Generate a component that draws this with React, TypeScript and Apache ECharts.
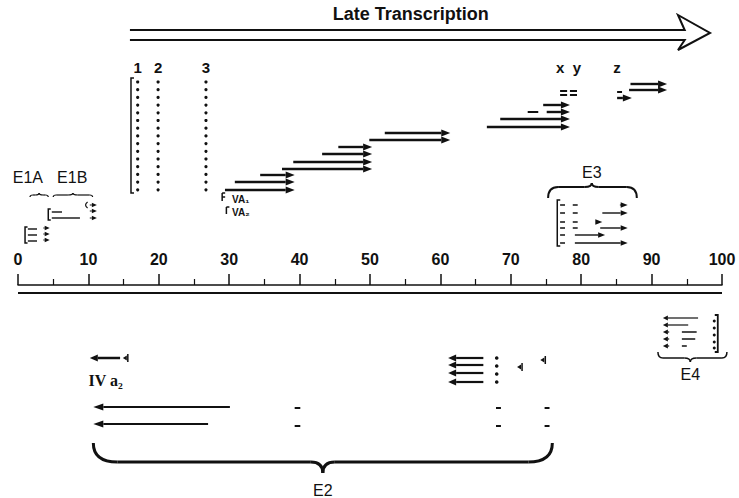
import React, { useEffect, useRef } from "react";
import * as echarts from "echarts";

// ---- data (map units 0-100 along the genome; level = height above the map axis) ----
const mapTickLabels = ["0", "10", "20", "30", "40", "50", "60", "70", "80", "90", "100"];

// late mRNAs: [start, end, level]
const lateRNAs: [number, number, number][] = [
  [29.4, 39.3, 95], [30.8, 39.3, 103], [34.4, 39.3, 110],
  [37.5, 50.3, 116], [39.1, 50.3, 123], [43.2, 50.3, 131], [45.5, 50.3, 138],
  [49.9, 61.4, 145], [52.1, 61.4, 152],
  [66.6, 78.4, 158], [68.5, 78.4, 166], [75.1, 78.4, 173], [74.6, 78.4, 180],
  [86.8, 92.2, 195], [87.0, 92.2, 201],
  [85.1, 87.2, 187],
];
// small exon pieces: [start, end, level]
const lateExons: [number, number, number][] = [
  [72.4, 73.9, 173], [77.0, 78.0, 194], [77.0, 78.0, 190], [78.4, 79.4, 194], [78.4, 79.4, 190], [85.1, 85.8, 193],
];
const leaderColumns = [17.0, 19.9, 26.7];
const leaderLabels = ["1", "2", "3"];
const leaderCount = 15;
const xyzLabels = ["x", "y", "z"];
const xyzPos = [77.0, 79.4, 85.1];

// E1
const e1aExons: [number, number, number][] = [[1.4, 2.7, 56], [1.4, 2.7, 50], [1.4, 2.7, 44]];
const e1aHeads: [number, number, number][] = [[3.6, 4.5, 57], [3.6, 4.5, 51], [3.6, 4.5, 45]];
const e1bExons: [number, number, number][] = [[4.8, 6.25, 73], [4.8, 8.8, 67]];
const e1bHeads: [number, number, number][] = [[10.2, 11.2, 80], [10.2, 11.2, 74], [10.2, 11.2, 67]];

// E3
const e3Levels = [80, 72, 63, 57, 50, 42];
const e3Arrows: [number, number, number][] = [
  [85.5, 86.6, 80], [83.0, 86.6, 72], [82.2, 83.0, 63], [82.7, 86.6, 57], [79.1, 83.4, 50], [79.1, 86.6, 42],
];

// E2 (leftward)
const e2Late: [number, number, number][] = [[66.1, 61.1, -73], [66.1, 61.1, -80], [66.1, 61.1, -88], [66.1, 61.1, -97]];
const e2Dots = [-73, -81, -89, -97];
const e2Long: [number, number, number][] = [[30.1, 10.7, -122], [27.0, 10.7, -139]];
const e2Dashes: [number, number, number][] = [
  [39.3, 40.1, -123], [39.3, 40.1, -141], [67.9, 68.6, -123], [67.9, 68.6, -141], [74.8, 75.5, -123], [74.8, 75.5, -141],
];
const iva2Arrow: [number, number, number] = [14.5, 10.2, -73];
const e2Promoters: [number, number][] = [[15.6, -73], [71.6, -82], [74.9, -75]];

// E4 (leftward)
const e4Arrows: [number, number, number][] = [[96.6, 91.6, -33], [95.2, 91.6, -40], [92.5, 91.6, -47], [92.5, 91.6, -54], [92.5, 91.6, -61]];
const e4Exons: [number, number, number][] = [[94.3, 96.4, -47], [94.3, 96.2, -54], [94.3, 95.0, -61]];
const e4Dots = [-36, -43, -50, -57, -63];

const INK = "#111";
const SANS = "'Liberation Sans', Arial, Helvetica, sans-serif";

export default function App() {
  const ref = useRef<HTMLDivElement>(null);
  useEffect(() => {
    document.body.style.margin = "0";
    const chart = echarts.init(ref.current!, null, { renderer: "svg" });

    const renderItem = (_params: any, api: any) => {
      const kids: any[] = [];
      const c = (u: number, v: number) => api.coord([u, v]);
      const line = (p: number[], q: number[], w = 1.5) =>
        kids.push({ type: "line", shape: { x1: p[0], y1: p[1], x2: q[0], y2: q[1] }, style: { stroke: INK, lineWidth: w } });
      const seg = (u1: number, u2: number, v: number, w = 1.5) => line(c(u1, v), c(u2, v), w);
      const poly = (pts: number[][], w = 1.5) =>
        kids.push({ type: "polyline", shape: { points: pts }, style: { stroke: INK, lineWidth: w, fill: "none" } });
      const arrow = (u1: number, u2: number, v: number, w: number, hl: number, hw: number) => {
        const a = c(u1, v), b = c(u2, v);
        const d = b[0] >= a[0] ? 1 : -1;
        const base = b[0] - d * hl;
        if ((base - a[0]) * d > 0) line(a, [base, b[1]], w);
        kids.push({ type: "polygon", shape: { points: [[b[0], b[1]], [base, b[1] - hw], [base, b[1] + hw]] }, style: { fill: INK } });
      };
      const dot = (u: number, v: number, r = 1.6) => {
        const p = c(u, v);
        kids.push({ type: "circle", shape: { cx: p[0], cy: p[1], r }, style: { fill: INK } });
      };
      const bez = (p: number[], q: number[], cp: number[], w: number) =>
        kids.push({ type: "bezierCurve", shape: { x1: p[0], y1: p[1], x2: q[0], y2: q[1], cpx1: cp[0], cpy1: cp[1] }, style: { stroke: INK, lineWidth: w, fill: "none" } });
      const brace = (u1: number, u2: number, um: number, vLine: number, vEnd: number, vTip: number, r: number, rt: number, w: number) => {
        const e1 = c(u1, vEnd), e2 = c(u2, vEnd), m = c(um, vTip);
        const y = c(u1, vLine)[1];
        bez(e1, [e1[0] + r, y], [e1[0], y], w);
        line([e1[0] + r, y], [m[0] - rt, y], w);
        bez([m[0] - rt, y], m, [m[0], y], w);
        bez(m, [m[0] + rt, y], [m[0], y], w);
        line([m[0] + rt, y], [e2[0] - r, y], w);
        bez([e2[0] - r, y], e2, [e2[0], y], w);
      };
      const bracketL = (u: number, vTop: number, vBot: number, s = 3, w = 1.5) => {
        const t = c(u, vTop), b = c(u, vBot);
        poly([[t[0] + s, t[1]], [t[0], t[1]], [b[0], b[1]], [b[0] + s, b[1]]], w);
      };
      const bracketR = (u: number, vTop: number, vBot: number, s = 3, w = 1.5) => {
        const t = c(u, vTop), b = c(u, vBot);
        poly([[t[0] - s, t[1]], [t[0], t[1]], [b[0], b[1]], [b[0] - s, b[1]]], w);
      };
      const text = (s: string, u: number, v: number, font: string, align = "center") => {
        const p = c(u, v);
        kids.push({ type: "text", x: p[0], y: p[1], style: { text: s, font, fill: INK, align, verticalAlign: "middle" } });
      };
      const promoterLeft = (u: number, v: number) => {
        const p = c(u, v);
        line([p[0], p[1] - 4], [p[0], p[1] + 4], 1.5);
        kids.push({ type: "polygon", shape: { points: [[p[0] - 5, p[1]], [p[0] - 1, p[1] - 2.5], [p[0] - 1, p[1] + 2.5]] }, style: { fill: INK } });
      };

      // big hollow arrow "Late Transcription"
      poly([[15.9, 255], [94.7, 255], [93.75, 270], [98.3, 252], [93.75, 235], [94.7, 245], [15.9, 245]].map(([u, v]) => c(u, v)), 2);
      text("Late Transcription", 55.8, 271, `bold 18px ${SANS}`);

      // second genome line
      seg(0, 100, -8, 2.2);

      // tripartite leader
      leaderColumns.forEach((u, i) => {
        text(leaderLabels[i], u, 218, `bold 15px ${SANS}`);
        for (let k = 0; k < leaderCount; k++) dot(u, 203 - k * 7.7);
      });
      bracketL(16.05, 207, 92, 3, 1.5);
      xyzLabels.forEach((s, i) => text(s, xyzPos[i], 218, `bold 15px ${SANS}`));

      lateRNAs.forEach(([a, b, v]) => arrow(a, b, v, 2.4, 9, 3.6));
      lateExons.forEach(([a, b, v]) => seg(a, b, v, 2));

      // VA RNAs
      { const p = c(29.0, 92), q = c(29.0, 84); line(p, q, 1.5); line(p, [p[0] + 3, p[1]], 1.5); line([p[0], (p[1] + q[1]) / 2], [p[0] + 3, (p[1] + q[1]) / 2], 1.5); }
      { const p = c(29.6, 78), q = c(29.6, 71); line(p, q, 1.5); line(p, [p[0] + 3, p[1]], 1.5); }
      text("VA₁", 30.4, 85.5, `bold 10px ${SANS}`, "left");
      text("VA₂", 30.4, 73, `bold 10px ${SANS}`, "left");

      // E1A / E1B
      text("E1A", 1.4, 108, `16px ${SANS}`);
      text("E1B", 7.7, 108, `16px ${SANS}`);
      brace(1.7, 4.3, 3.0, 90, 88, 92, 3, 4, 1.2);
      brace(5.0, 10.6, 7.8, 90, 88, 92, 3, 5, 1.2);
      bracketL(1.0, 58, 42, 2.5, 1.5);
      e1aExons.forEach(([a, b, v]) => seg(a, b, v, 1.4));
      e1aHeads.forEach(([a, b, v]) => arrow(a, b, v, 1, 5, 2.2));
      bracketL(4.3, 76, 65, 2.5, 1.5);
      e1bExons.forEach(([a, b, v]) => seg(a, b, v, 1.4));
      e1bHeads.forEach(([a, b, v]) => arrow(a, b, v, 1, 5, 2.2));
      { const t = c(9.6, 83), b = c(9.6, 77); bez([t[0] + 2, t[1]], [b[0] + 2, b[1]], [t[0] - 2, (t[1] + b[1]) / 2], 1.2); }

      // E3
      text("E3", 81.5, 113, `16px ${SANS}`);
      brace(75.3, 87.9, 81.5, 98, 87, 102, 10, 7, 2);
      bracketL(76.6, 85, 39, 3, 1.5);
      e3Levels.forEach((v, i) => {
        seg(77.0, 77.7, v, 1.5);
        if (i < 4) seg(78.8, 79.5, v, 1.5);
      });
      e3Arrows.forEach(([a, b, v]) => arrow(a, b, v, 1.4, 7, 2.8));

      // E2
      arrow(iva2Arrow[0], iva2Arrow[1], iva2Arrow[2], 2.5, 8, 3.5);
      e2Promoters.forEach(([u, v]) => promoterLeft(u, v));
      text("IV a₂", 10.0, -95, `bold 16px 'Liberation Serif', 'DejaVu Serif', serif`, "left");
      e2Long.forEach(([a, b, v]) => arrow(a, b, v, 1.8, 10, 3.6));
      e2Late.forEach(([a, b, v]) => arrow(a, b, v, 2.2, 8, 3.6));
      e2Dots.forEach((v) => dot(68.0, v, 1.8));
      e2Dashes.forEach(([a, b, v]) => seg(a, b, v, 2));
      brace(10.7, 75.9, 43.3, -177, -158, -188, 24, 12, 3);
      text("E2", 43.3, -205, `16px ${SANS}`);

      // E4
      e4Arrows.forEach(([a, b, v]) => arrow(a, b, v, 1.2, 5, 2.6));
      e4Exons.forEach(([a, b, v]) => seg(a, b, v, 1.5));
      bracketR(99.4, -30, -67, 3, 1.8);
      e4Dots.forEach((v) => dot(98.9, v, 1.5));
      brace(90.9, 100.7, 95.5, -73, -67, -77, 5, 6, 1.5);
      text("E4", 95.5, -89, `16px ${SANS}`);

      return { type: "group", children: kids };
    };

    chart.setOption({
      animation: false,
      backgroundColor: "#fff",
      grid: { left: 18, right: 17, top: 0, bottom: 213, containLabel: false, outerBoundsMode: "none" },
      xAxis: {
        type: "value", min: 0, max: 100, interval: 10, position: "bottom",
        axisLine: { onZero: false, lineStyle: { color: INK, width: 1.5 } },
        axisTick: { inside: true, length: 11, lineStyle: { color: INK, width: 1.5 } },
        minorTick: { show: true, splitNumber: 2, length: 6, lineStyle: { color: INK, width: 1.2 } },
        axisLabel: {
          inside: true, margin: 18, color: INK, fontSize: 16, fontWeight: "bold", fontFamily: SANS,
          formatter: (val: number) => mapTickLabels[Math.round(val / 10)] ?? "",
          showMinLabel: true, showMaxLabel: true, hideOverlap: false,
        },
        splitLine: { show: false },
      },
      yAxis: {
        type: "value", min: 0, max: 285,
        axisLine: { show: false }, axisTick: { show: false }, axisLabel: { show: false }, splitLine: { show: false },
      },
      series: [{ type: "custom", silent: true, clip: false, data: [[0, 0]], renderItem }],
    });
    return () => chart.dispose();
  }, []);
  return <div ref={ref} style={{ width: 739, height: 498, position: "absolute", left: 0, top: 0 }} />;
}
